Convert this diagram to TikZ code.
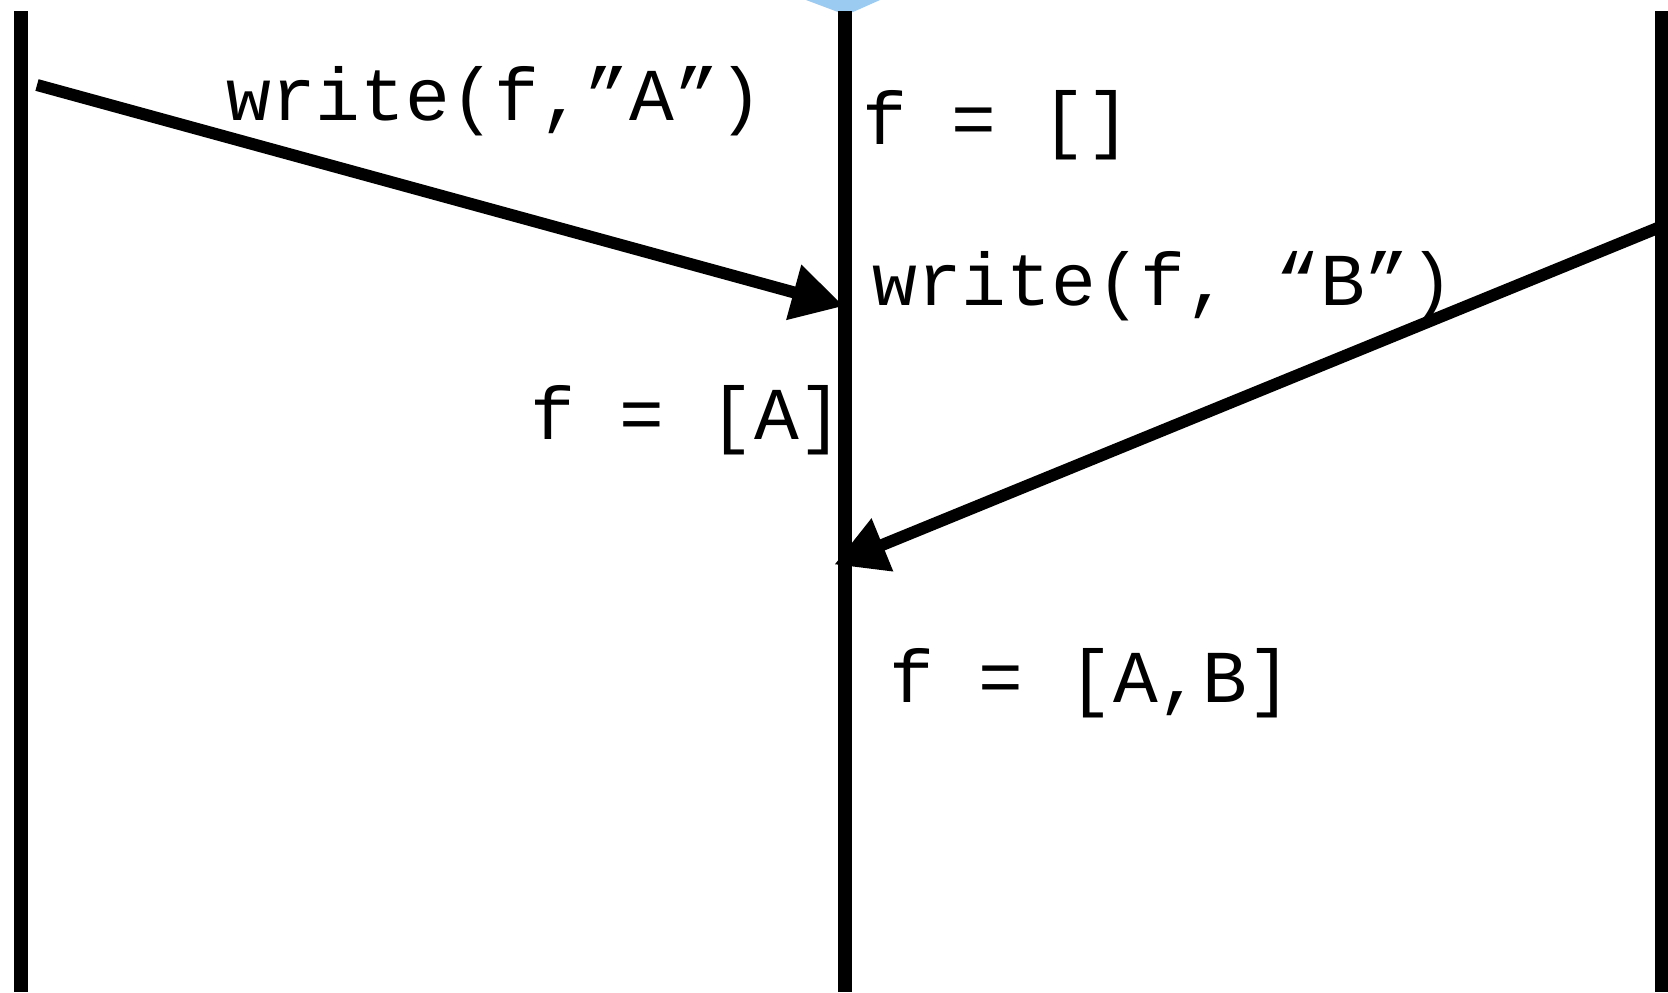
\documentclass[tikz,border=0pt]{standalone}
\usepackage{fontspec}
\setmonofont{Liberation Mono}
\usepackage{tikz}
\usetikzlibrary{arrows.meta}
\definecolor{ink}{HTML}{000000}
\definecolor{cutblue}{HTML}{9CCBF2}
\tikzset{
  life/.style={line width=7pt, ink},
  msg/.style={-{Triangle[length=26pt,width=27pt]}, line width=6pt, ink, shorten >=-2pt},
  lbl/.style={font=\fontsize{37.3}{41}\selectfont\ttfamily, anchor=base west, inner sep=0pt},
}
\begin{document}
\begin{tikzpicture}[x=0.5pt, y=-0.5pt]
  \useasboundingbox (0,0) rectangle (1668,992);
  % partly cut shape above the middle line
  \fill[cutblue] (806,0) -- (880,0) -- (853,12) -- (838,12) -- cycle;
  % lifelines
  \foreach \n/\x in {p/21,s/845,q/1662} {
    \coordinate (\n top) at (\x,11);
    \coordinate (\n bot) at (\x,992);
    \draw[life] (\n top) -- (\n bot);
  }
  % message end points
  \coordinate (a0) at (37,85);
  \coordinate (a1) at (840,305);
  \coordinate (b0) at (1665,225);
  \coordinate (b1) at (838,563);
  \draw[msg] (a0) -- (a1);
  \draw[msg] (b0) -- (b1);
  % labels
  \node[lbl] (wa) at (226,120) {write(f,”A”)};
  \node[lbl] (s0) at (862,144) {f = []};
  \node[lbl] (wb) at (872,305) {write(f, “B”)};
  \node[lbl] (s1) at (530,439) {f = [A]};
  \node[lbl] (s2) at (889,702) {f = [A,B]};
\end{tikzpicture}
\end{document}
